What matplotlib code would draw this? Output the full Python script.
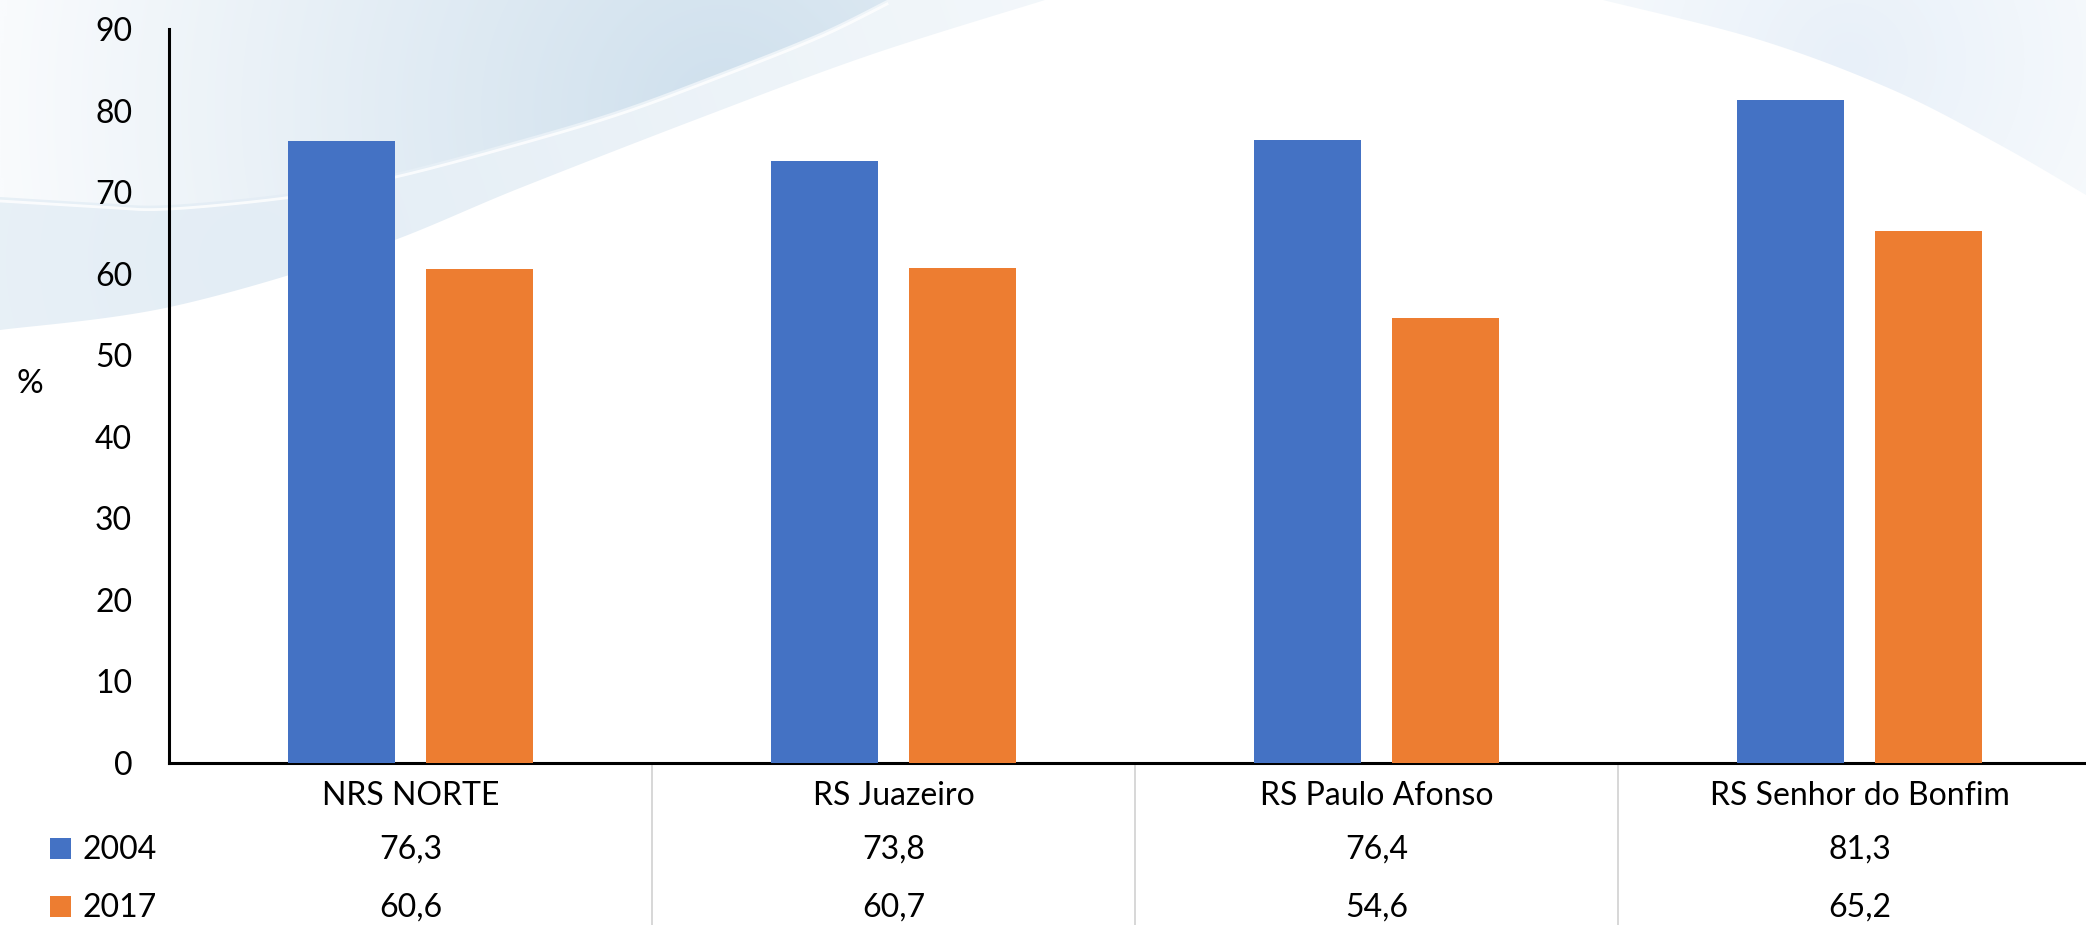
import numpy as np
import matplotlib
matplotlib.use("Agg")
import matplotlib.pyplot as plt
from matplotlib.patches import Polygon, Rectangle
from matplotlib.transforms import blended_transform_factory

plt.rcParams['font.family'] = ['Lato', 'DejaVu Sans']

categories = ["NRS NORTE", "RS Juazeiro", "RS Paulo Afonso", "RS Senhor do Bonfim"]
series_names = ["2004", "2017"]
values_2004 = [76.3, 73.8, 76.4, 81.3]
values_2017 = [60.6, 60.7, 54.6, 65.2]
labels_2004 = ["76,3", "73,8", "76,4", "81,3"]
labels_2017 = ["60,6", "60,7", "54,6", "65,2"]
yticks = [0, 10, 20, 30, 40, 50, 60, 70, 80, 90]

BLUE = "#4472C4"
ORANGE = "#ED7D31"
W, H = 2086, 925
FS = 23

fig = plt.figure(figsize=(W / 100, H / 100), dpi=100)
fig.patch.set_facecolor("white")

# ---------- decorative background ----------
bg = fig.add_axes([0, 0, 1, 1], zorder=0)
bg.set_xlim(0, W)
bg.set_ylim(H, 0)
bg.axis("off")


def smooth(pts, n=20):
    pts = np.asarray(pts, float)
    P = np.vstack([pts[0], pts, pts[-1]])
    out = []
    for i in range(1, len(P) - 2):
        p0, p1, p2, p3 = P[i - 1], P[i], P[i + 1], P[i + 2]
        for t in np.linspace(0, 1, n, endpoint=False):
            t2, t3 = t * t, t * t * t
            out.append(0.5 * ((2 * p1) + (-p0 + p2) * t + (2 * p0 - 5 * p1 + 4 * p2 - p3) * t2
                              + (-p0 + 3 * p1 - 3 * p2 + p3) * t3))
    out.append(P[-2])
    return np.array(out)


YY, XX = np.mgrid[0:H:3, 0:W:3].astype(float)


def radial_image(c_in, c_out, cx, cy, r):
    t = np.clip(np.hypot(XX - cx, YY - cy) / r, 0, 1)[..., None]
    c_in = np.array(matplotlib.colors.to_rgb(c_in))
    c_out = np.array(matplotlib.colors.to_rgb(c_out))
    return c_in * (1 - t) + c_out * t


def band(edge, extra, img):
    e = smooth(edge)
    poly = np.vstack([e, extra])
    patch = Polygon(poly, closed=True, facecolor="none", edgecolor="none")
    bg.add_patch(patch)
    im = bg.imshow(img, extent=[0, W, H, 0], zorder=1, interpolation="bilinear", aspect="auto")
    im.set_clip_path(patch)
    return e

# band 2 (lighter, lower)
edge2 = [(0, 330), (170, 307), (367, 250), (520, 188), (700, 118), (870, 55), (1045, 0)]
band(edge2, [(0, 0)], radial_image("#e3edf5", "#f4f8fb", 250, 260, 900))
# band 1 (main swoosh)
edge1 = [(0, 197), (100, 203), (170, 205), (300, 192), (400, 172), (520, 140),
         (620, 110), (720, 73), (820, 33), (887, 0)]
e1 = band(edge1, [(0, 0)], radial_image("#cfe0ed", "#f9fbfd", 720, 110, 720))
bg.plot(e1[:, 0], e1[:, 1] + 4, color="white", lw=2.0, alpha=0.8, zorder=2)
# top-right swoosh
edge3 = [(1603, 0), (1760, 40), (1893, 90), (2000, 145), (2086, 195)]
band(edge3, [(2086, 0), (1603, 0)], radial_image("#e8f0f9", "#fafcfd", 1850, 60, 350))

# ---------- main chart ----------
ax_left = 169 / W
ax_bottom = (H - 763) / H
ax_width = (2101 - 169) / W
ax_height = (763 - 29) / H
ax = fig.add_axes([ax_left, ax_bottom, ax_width, ax_height], zorder=2)
ax.patch.set_alpha(0)

x = np.arange(len(categories))
bw = 0.222
off = 0.1425
ax.bar(x - off, values_2004, width=bw, color=BLUE, zorder=3)
ax.bar(x + off, values_2017, width=bw, color=ORANGE, zorder=3)

ax.set_xlim(-0.5, len(categories) - 0.5)
ax.set_ylim(0, 90)
ax.set_yticks(yticks)
ax.set_yticklabels([str(v) for v in yticks], fontsize=FS)
ax.tick_params(axis="y", length=0, pad=26.5)
ax.set_xticks([])
for s in ["top", "right"]:
    ax.spines[s].set_visible(False)
ax.spines["left"].set_linewidth(2.2)
ax.spines["bottom"].set_linewidth(2.2)
ax.spines["left"].set_color("black")
ax.spines["bottom"].set_color("black")

fig.text(30 / W, 1 - 384 / H, "%", fontsize=FS + 1, ha="center", va="center")

# ---------- data table ----------
def fy(py):
    return 1 - py / H

tr = blended_transform_factory(ax.transData, fig.transFigure)
for i, cat in enumerate(categories):
    ax.text(i, fy(805), cat, transform=tr, ha="center", va="baseline", fontsize=FS, clip_on=False)
    ax.text(i, fy(859), labels_2004[i], transform=tr, ha="center", va="baseline", fontsize=FS, clip_on=False)
    ax.text(i, fy(917), labels_2017[i], transform=tr, ha="center", va="baseline", fontsize=FS, clip_on=False)

for xd in np.arange(0.5, len(categories) - 0.5, 1.0):
    ax.plot([xd, xd], [fy(766), 0], transform=tr, color="#d4d4d4", lw=1.3, clip_on=False, zorder=1)

for name, color, top, base in [(series_names[0], BLUE, 838, 859), (series_names[1], ORANGE, 896, 917)]:
    fig.patches.append(Rectangle((50 / W, fy(top + 21)), 21 / W, 21 / H, transform=fig.transFigure,
                                 facecolor=color, edgecolor="none", zorder=3))
    fig.text(82 / W, fy(base), name, fontsize=FS, ha="left", va="baseline")

fig.savefig("out.png", dpi=100)
